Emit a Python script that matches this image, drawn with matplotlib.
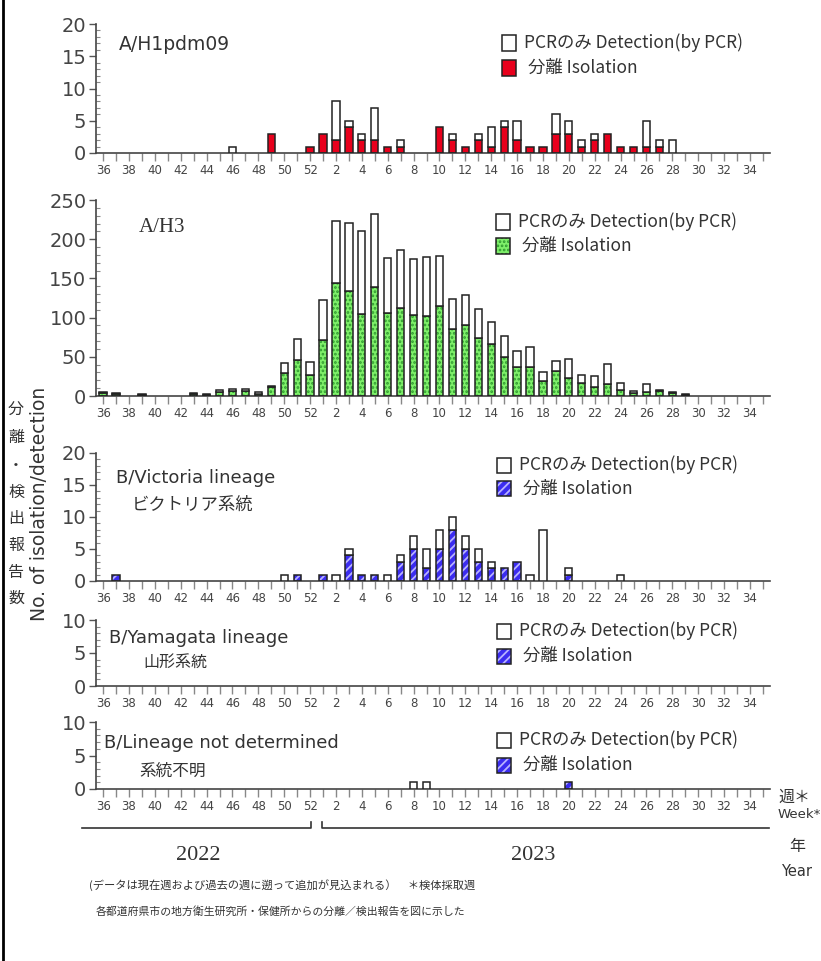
import matplotlib
matplotlib.use("Agg")
import matplotlib.pyplot as plt
import numpy as np
from matplotlib.patches import Rectangle
from matplotlib.ticker import MultipleLocator, FixedLocator, FixedFormatter
import matplotlib.transforms as mtransforms

# ---------------- data ----------------
weeks = list(range(36, 53)) + list(range(1, 36))
week_labels = [str(w) if w % 2 == 0 else "" for w in weeks]

def series(d):
    return [d.get(w, 0) for w in weeks]

# A/H1pdm09
h1_iso = series({49: 3, 52: 1, 1: 3, 2: 2, 3: 4, 4: 2, 5: 2, 6: 1, 7: 1, 10: 4, 11: 2, 12: 1,
                 13: 2, 14: 1, 15: 4, 16: 2, 17: 1, 18: 1, 19: 3, 20: 3, 21: 1, 22: 2, 23: 3,
                 24: 1, 25: 1, 26: 1, 27: 1})
h1_pcr = series({46: 1, 2: 6, 3: 1, 4: 1, 5: 5, 7: 1, 11: 1, 13: 1, 14: 3, 15: 1, 16: 3,
                 19: 3, 20: 2, 21: 1, 22: 1, 26: 4, 27: 1, 28: 2})

# A/H3 (isolation, total)
h3_iso = series({36: 4, 37: 3, 39: 1, 43: 3, 44: 1, 45: 5, 46: 6, 47: 6, 48: 3, 49: 11, 50: 29,
                 51: 46, 52: 27, 1: 72, 2: 144, 3: 134, 4: 105, 5: 139, 6: 106, 7: 112, 8: 103,
                 9: 102, 10: 115, 11: 85, 12: 90, 13: 74, 14: 66, 15: 50, 16: 37, 17: 37, 18: 19,
                 19: 32, 20: 23, 21: 16, 22: 11, 23: 15, 24: 8, 25: 4, 26: 5, 27: 6, 28: 4, 29: 1})
h3_total = series({36: 5, 37: 4, 39: 2, 43: 4, 44: 2, 45: 8, 46: 9, 47: 9, 48: 5, 49: 13, 50: 42,
                   51: 73, 52: 43, 1: 123, 2: 223, 3: 221, 4: 210, 5: 232, 6: 176, 7: 186, 8: 175,
                   9: 177, 10: 178, 11: 124, 12: 129, 13: 111, 14: 94, 15: 76, 16: 57, 17: 63,
                   18: 30, 19: 45, 20: 47, 21: 27, 22: 26, 23: 41, 24: 16, 25: 6, 26: 15, 27: 8,
                   28: 5, 29: 2})
h3_pcr = [t - i for t, i in zip(h3_total, h3_iso)]

# B/Victoria
bv_iso = series({37: 1, 51: 1, 1: 1, 3: 4, 4: 1, 5: 1, 7: 3, 8: 5, 9: 2, 10: 5, 11: 8, 12: 5,
                 13: 3, 14: 2, 15: 2, 16: 3, 20: 1})
bv_pcr = series({50: 1, 2: 1, 3: 1, 6: 1, 7: 1, 8: 2, 9: 3, 10: 3, 11: 2, 12: 2, 13: 2, 14: 1,
                 17: 1, 18: 8, 20: 1, 24: 1})

# B/Yamagata
by_iso = series({})
by_pcr = series({})

# B/lineage not determined
bn_iso = series({20: 1})
bn_pcr = series({8: 1, 9: 1})

# ---------------- styling ----------------
W, H = 821, 961
fig = plt.figure(figsize=(W / 100, H / 100), dpi=100)
fig.patch.set_facecolor("white")

def fx(p):
    return p / W

def fy(p):
    return 1 - p / H

JP = ["Noto Sans CJK JP", "DejaVu Sans"]
TXT = "#333333"
EDGE = "#222222"

x = np.arange(len(weeks))
BW = 0.56

panels = [
    dict(top=24, bot=153, ymax=20, major=5, minor=1, iso=h1_iso, pcr=h1_pcr,
         face="#e8001c", hatch=None, hcol=None,
         title=[("A/H1pdm09", 119, 45, ["DejaVu Sans"], 13.5)], leg=(43, 68), lx=502),
    dict(top=200, bot=396, ymax=250, major=50, minor=10, iso=h3_iso, pcr=h3_pcr,
         face="#7ff06a", hatch="....", hcol="#2f9a2f",
         title=[("A/H3", 139, 228, ["Liberation Serif"], 15)], leg=(222, 246), lx=496),
    dict(top=453, bot=581, ymax=20, major=5, minor=1, iso=bv_iso, pcr=bv_pcr,
         face="#3b2cf0", hatch="////", hcol="#b8b2ff",
         title=[("B/Victoria lineage", 116, 478, ["DejaVu Sans"], 13),
                ("ビクトリア系統", 132, 505, JP, 12.5)], leg=(465, 489), lx=497),
    dict(top=620, bot=686, ymax=10, major=5, minor=1, iso=by_iso, pcr=by_pcr,
         face="#3b2cf0", hatch="////", hcol="#b8b2ff",
         title=[("B/Yamagata lineage", 109, 638, ["DejaVu Sans"], 13),
                ("山形系統", 143, 662, JP, 11.5)], leg=(631, 656), lx=497),
    dict(top=722, bot=789, ymax=10, major=5, minor=1, iso=bn_iso, pcr=bn_pcr,
         face="#3b2cf0", hatch="////", hcol="#b8b2ff",
         title=[("B/Lineage not determined", 104, 743, ["DejaVu Sans"], 13),
                ("系統不明", 139, 771, JP, 12)], leg=(740, 765), lx=497),
]

AX_L, AX_R = 96, 770
axes = []
for p in panels:
    ax = fig.add_axes([fx(AX_L), fy(p["bot"]), fx(AX_R - AX_L), (p["bot"] - p["top"]) / H])
    axes.append(ax)
    ax.set_xlim(-0.55, len(weeks) - 0.45)
    ax.set_ylim(0, p["ymax"])
    for s in ("top", "right"):
        ax.spines[s].set_visible(False)
    for s in ("left", "bottom"):
        ax.spines[s].set_color("#444444")
        ax.spines[s].set_linewidth(1.2)

    iso = np.array(p["iso"], float)
    pcr = np.array(p["pcr"], float)
    mi = iso > 0
    if mi.any():
        with plt.rc_context({"hatch.color": p["hcol"] or p["face"], "hatch.linewidth": 1.3}):
            ax.bar(x[mi], iso[mi], width=BW, facecolor=p["face"], edgecolor=None,
                   linewidth=0, hatch=p["hatch"], zorder=2)
        ax.bar(x[mi], iso[mi], width=BW, fill=False, edgecolor=EDGE, linewidth=1.1, zorder=3)
    mp = pcr > 0
    if mp.any():
        ax.bar(x[mp], pcr[mp], bottom=iso[mp], width=BW, facecolor="white",
               edgecolor=EDGE, linewidth=1.1, zorder=3)

    ax.xaxis.set_major_locator(FixedLocator(x))
    ax.xaxis.set_major_formatter(FixedFormatter(week_labels))
    ax.tick_params(axis="x", which="major", direction="out", length=6, width=1,
                   color="#888888", labelsize=8.5, labelcolor="#444444", pad=2)
    ax.yaxis.set_major_locator(MultipleLocator(p["major"]))
    ax.yaxis.set_minor_locator(MultipleLocator(p["minor"]))
    ax.tick_params(axis="y", which="major", direction="out", length=5, width=1,
                   color="#555555", labelsize=14, labelcolor="#444444", pad=2)
    ax.tick_params(axis="y", which="minor", direction="in", length=3, width=0.8,
                   color="#888888")

    for (t, tx, ty, fam, fs) in p["title"]:
        fig.text(fx(tx), fy(ty), t, family=fam, fontsize=fs, color=TXT,
                 ha="left", va="center")

    # legend
    rx, rw, rh = p["lx"], 14, 15
    for k, (ly, lab) in enumerate(zip(p["leg"], ["PCRのみ Detection(by PCR)", "分離 Isolation"])):
        if k == 0:
            fig.patches.append(Rectangle((fx(rx), fy(ly + rh / 2)), fx(rw), rh / H,
                                         transform=fig.transFigure, facecolor="white",
                                         edgecolor=EDGE, linewidth=1.1))
        else:
            with plt.rc_context({"hatch.color": p["hcol"] or p["face"], "hatch.linewidth": 1.3}):
                fig.patches.append(Rectangle((fx(rx), fy(ly + rh / 2)), fx(rw), rh / H,
                                             transform=fig.transFigure, facecolor=p["face"],
                                             edgecolor=None, linewidth=0, hatch=p["hatch"]))
            fig.patches.append(Rectangle((fx(rx), fy(ly + rh / 2)), fx(rw), rh / H,
                                         transform=fig.transFigure, fill=False,
                                         edgecolor=EDGE, linewidth=1.1))
        fig.text(fx(rx + 22 if k == 0 else rx + 26), fy(ly), lab, family=JP, fontsize=12.5,
                 color=TXT, ha="left", va="center")

# y label
fig.text(fx(40), fy(504), "No. of isolation/detection", rotation=90, family=["DejaVu Sans"],
         fontsize=13.5, color=TXT, ha="center", va="center")
for ch, yy in zip("分離・検出報告数", [410, 437, 465, 492, 518, 545, 572, 598]):
    fig.text(fx(16), fy(yy), ch, family=JP, fontsize=11.5, color=TXT, ha="center", va="center")

# week / year labels
fig.text(fx(778), fy(797), "週＊", family=JP, fontsize=11.5, color=TXT, ha="left", va="center")
fig.text(fx(778), fy(814), "Week*", family=["DejaVu Sans"], fontsize=9.5, color=TXT,
         ha="left", va="center")
fig.text(fx(789), fy(846), "年", family=JP, fontsize=11.5, color=TXT, ha="left", va="center")
fig.text(fx(781), fy(871), "Year", family=["DejaVu Sans"], fontsize=10.5, color=TXT,
         ha="left", va="center")

# year brackets (x in data of bottom axis, y in figure)
axb = axes[-1]
tr = mtransforms.blended_transform_factory(axb.transData, fig.transFigure)
yb, yh = fy(828), fy(822)
fig.lines.append(plt.Line2D([-1.6, 16.1, 16.1], [yb, yb, yh], transform=tr, color="#333333", lw=1.2))
fig.lines.append(plt.Line2D([16.9, 16.9, 51.5], [yh, yb, yb], transform=tr, color="#333333", lw=1.2))
fig.text(fx(198), fy(856), "2022", family=["Liberation Serif"], fontsize=16, color=TXT,
         ha="center", va="center")
fig.text(fx(533), fy(856), "2023", family=["Liberation Serif"], fontsize=16, color=TXT,
         ha="center", va="center")

# footnotes
fig.text(fx(89), fy(885), "(データは現在週および過去の週に遡って追加が見込まれる）　＊検体採取週",
         family=JP, fontsize=8.1, color=TXT, ha="left", va="center")
fig.text(fx(96), fy(911), "各都道府県市の地方衛生研究所・保健所からの分離／検出報告を図に示した",
         family=JP, fontsize=7.8, color=TXT, ha="left", va="center")

# left frame line
fig.lines.append(plt.Line2D([fx(3), fx(3)], [0, 1], transform=fig.transFigure, color="black", lw=2))

fig.savefig("out.png", dpi=100)
